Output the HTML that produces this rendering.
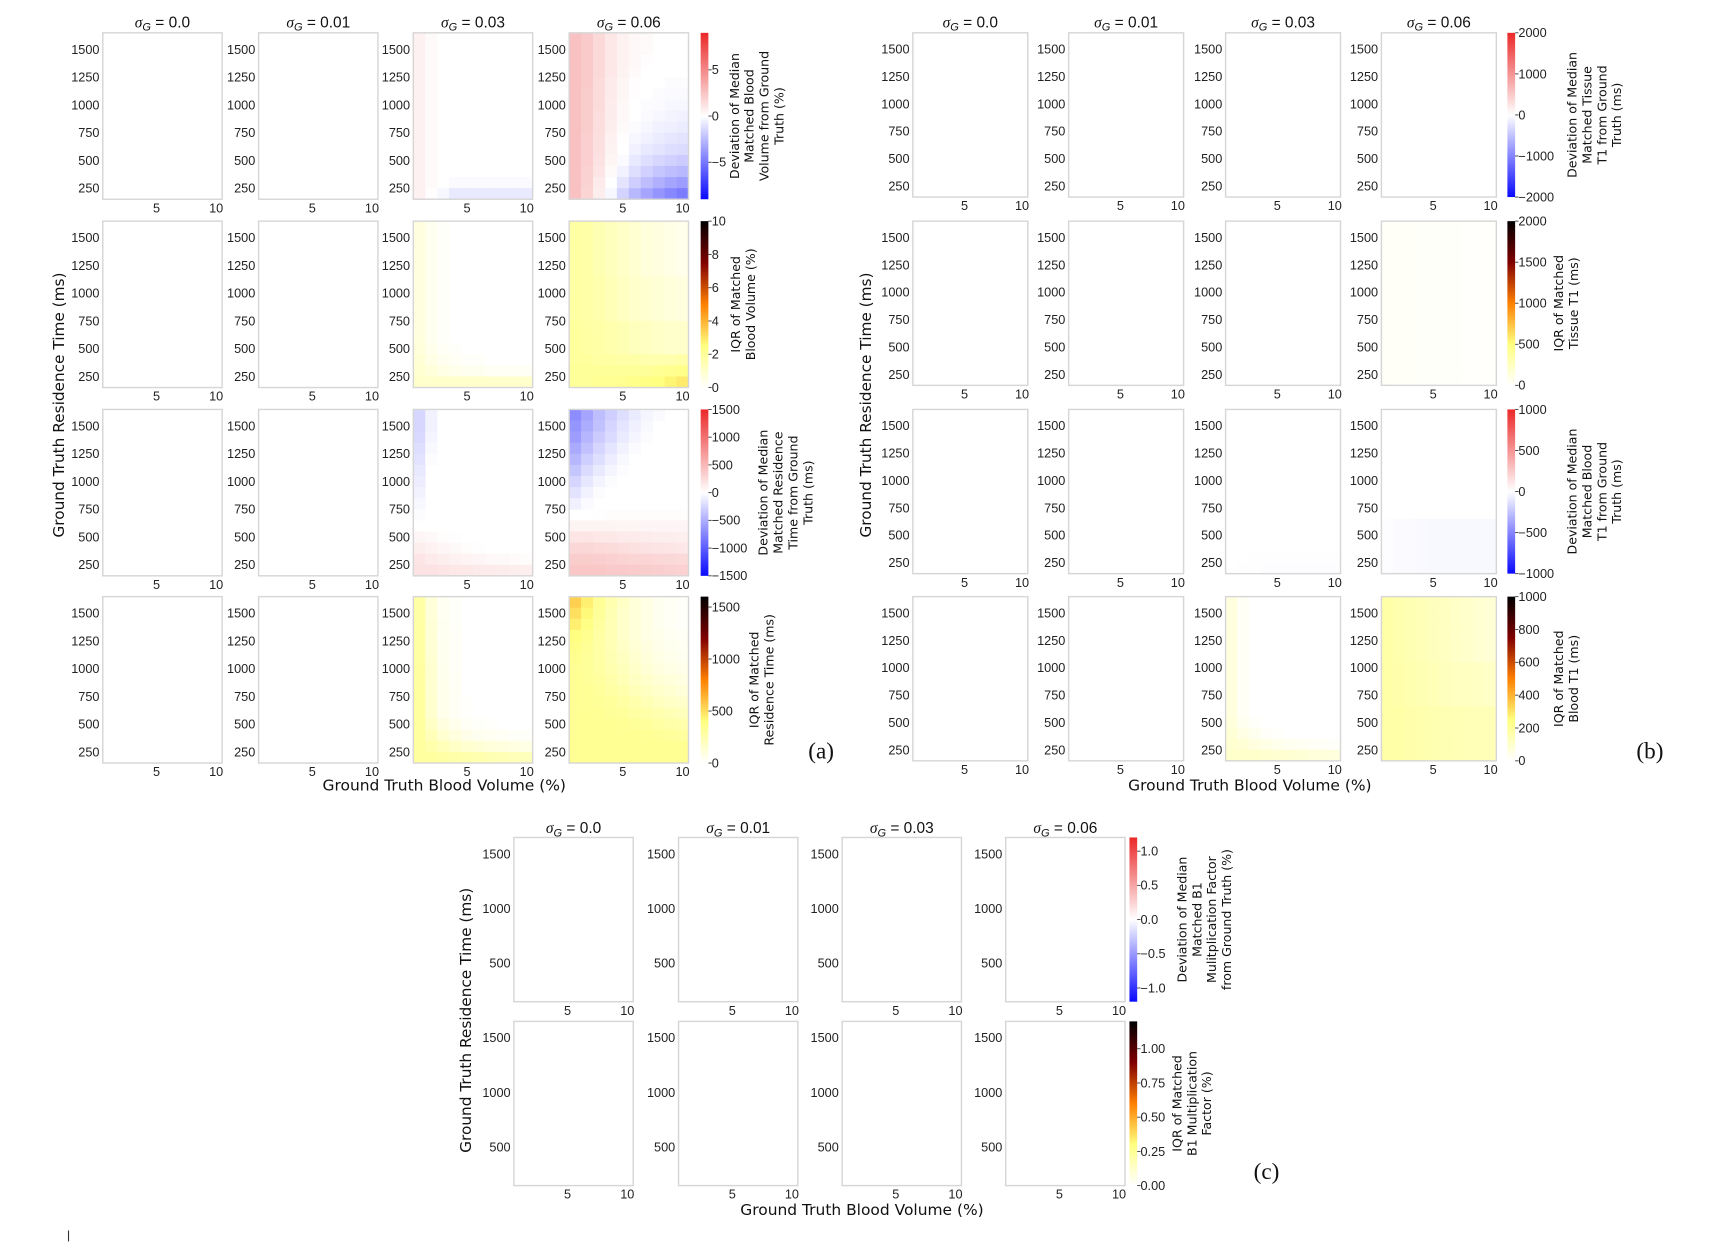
<!DOCTYPE html>
<html><head><meta charset="utf-8">
<style>
html,body{margin:0;padding:0;background:#fff;}
svg{display:block;}
.tk{font-family:"Liberation Sans Narrow","Liberation Sans",sans-serif;font-size:11.5px;fill:#222;}
.tt{font-family:"Liberation Sans",sans-serif;font-size:14px;fill:#111;}
.ax{font-family:"DejaVu Sans","Liberation Sans",sans-serif;font-size:14px;fill:#111;}
.cl{font-family:"DejaVu Sans","Liberation Sans",sans-serif;font-size:11.5px;fill:#111;}
.pl{font-family:"Liberation Serif",serif;font-size:21px;fill:#111;}
</style></head>
<body>
<svg id="fig" width="1724" height="1248" viewBox="0 0 1560 1140" preserveAspectRatio="none" xmlns="http://www.w3.org/2000/svg"></svg>
<script>
// ---- data ----
const sigmaLabels = ["0.0","0.01","0.03","0.06"];
const xVals = [1,2,3,4,5,6,7,8,9,10];
const yVals = [1600,1500,1400,1300,1200,1100,1000,900,800,700,600,500,400,300,200];
const xTicks = [5,10];
const yTicksAB = [250,500,750,1000,1250,1500];
const yTicksC = [500,1000,1500];

const ZERO = [[0]];

const a1_03 = [[0.6,0.2],[0.6,0.2],[0.6,0.2],[0.6,0.2],[0.6,0.2],[0.6,0.2],[0.6,0.2],[0.6,0.2],[0.6,0.2],[0.6,0.2],[0.6,0.2],[0.6,0.2],[0.6,0.2],
 [0.6,0.2,0,-0.2,-0.2,-0.2,-0.2,-0.2,-0.2,-0.2],[0.6,0.1,-0.3,-0.8,-0.8,-0.8,-0.8,-0.8,-0.8,-0.8]];
const a1_06 = [
 [2.6,2.2,1.6,1.0,0.6,0.3,0.2,0,0,0],[2.6,2.2,1.6,1.0,0.6,0.3,0.2,0,0,0],[2.6,2.2,1.6,1.0,0.6,0.3,0.1,0,0,0],
 [2.6,2.2,1.6,1.0,0.5,0.2,0,0,0,0],[2.6,2.2,1.5,0.9,0.4,0.1,0,0,-0.1,-0.1],[2.6,2.1,1.5,0.9,0.4,0.1,0,-0.1,-0.2,-0.2],
 [2.6,2.1,1.5,0.8,0.3,0,-0.1,-0.2,-0.3,-0.3],[2.6,2.1,1.4,0.8,0.3,0,-0.2,-0.3,-0.4,-0.5],[2.6,2.1,1.4,0.7,0.2,-0.1,-0.3,-0.5,-0.6,-0.7],
 [2.6,2.0,1.3,0.6,0.1,-0.3,-0.5,-0.7,-0.9,-1.0],[2.6,2.0,1.3,0.5,0,-0.5,-0.8,-1.0,-1.2,-1.3],[2.6,2.0,1.2,0.4,-0.2,-0.8,-1.2,-1.5,-1.7,-1.9],
 [2.6,1.9,1.1,0.2,-0.5,-1.2,-1.7,-2.1,-2.4,-2.6],[2.6,1.9,0.9,0,-1.0,-1.8,-2.4,-2.9,-3.3,-3.6],[2.6,1.8,0.7,-0.3,-1.6,-2.6,-3.3,-3.9,-4.4,-4.8]];
const a2_03 = [[0.6,0.3,0.1],[0.6,0.3,0.1],[0.6,0.3,0.1],[0.6,0.3,0.1],[0.6,0.3,0.1],[0.6,0.3,0.1],[0.6,0.3,0.1],[0.6,0.3,0.1],[0.6,0.3,0.1],[0.6,0.3,0.1],[0.6,0.3,0.1],
 [0.7,0.4,0.2,0.1],[0.8,0.5,0.3,0.2,0.1,0.1],[0.9,0.7,0.5,0.4,0.3,0.3,0.2,0.2,0.2,0.2],[1.0,1.0,1.0,1.0,1.0,1.0,1.0,1.0,1.0,1.0]];
const a2_06 = [
 [1.8,1.7,1.5,1.3,1.1,0.9,0.7,0.6,0.5,0.4],[1.8,1.7,1.5,1.3,1.1,0.9,0.7,0.6,0.5,0.4],[1.8,1.7,1.5,1.3,1.1,0.9,0.7,0.6,0.5,0.4],
 [1.8,1.7,1.5,1.3,1.1,0.9,0.7,0.6,0.5,0.4],[1.8,1.7,1.5,1.3,1.1,0.9,0.7,0.6,0.5,0.4],
 [1.8,1.7,1.6,1.4,1.2,1.0,0.9,0.8,0.7,0.6],[1.8,1.7,1.6,1.4,1.2,1.0,0.9,0.8,0.7,0.6],[1.8,1.7,1.6,1.4,1.2,1.0,0.9,0.8,0.7,0.6],[1.8,1.7,1.6,1.4,1.2,1.0,0.9,0.8,0.7,0.6],
 [1.9,1.8,1.7,1.6,1.5,1.3,1.2,1.1,1.0,1.0],[1.9,1.8,1.7,1.6,1.5,1.3,1.2,1.1,1.0,1.0],[1.9,1.8,1.7,1.6,1.5,1.3,1.2,1.1,1.0,1.0],
 [1.9,1.9,1.8,1.8,1.7,1.7,1.6,1.6,1.6,1.7],[2.0,2.0,2.0,2.0,2.0,2.0,2.0,2.1,2.2,2.3],[2.0,2.0,2.1,2.1,2.2,2.3,2.4,2.5,2.7,2.9]];
const a3_03 = [[-250,-80],[-250,-80],[-230,-60],[-200,-40],[-170,-20],[-140],[-110],[-80],[-50],[-20],[0],
 [60,40,20,10],[120,90,60,40,20,10],[180,150,120,100,80,60,50,40,30,20],[200,200,180,170,160,150,140,130,120,110]];
const a3_06 = [
 [-700,-550,-400,-300,-200,-120,-60,-30,0,0],[-650,-500,-380,-260,-160,-90,-40,0,0,0],[-600,-450,-320,-220,-120,-60,-20,0,0,0],
 [-520,-380,-260,-160,-80,-30,0,0,0,0],[-440,-300,-200,-110,-40,0,0,0,0,0],[-350,-220,-130,-60,-10,0,0,0,0,0],
 [-260,-150,-70,-20,0,0,0,0,0,0],[-170,-80,-20,0,0,0,0,0,0,0],[-90,-30,0,0,0,0,0,0,0,0],
 [0,0,10,20,20,20,20,20,20,20],[80,80,80,80,70,70,60,60,60,60],[180,180,170,160,150,140,130,120,120,110],
 [280,270,260,250,230,210,200,190,180,170],[350,350,340,330,310,300,290,280,270,260],[400,400,390,380,370,360,350,340,330,320]];
const a4_03 = [[280,120,40,20],[280,120,40,20],[285,125,45,20],[285,130,45,22],[290,130,50,22],[290,135,50,25],[295,140,55,25],[295,140,55,28],[300,145,60,30],[300,150,60,30,10],[300,150,60,30,10],
 [300,180,100,60,30,20,10],[300,220,150,100,70,50,40,30,20,20],[300,260,220,180,150,130,110,100,90,80],[300,300,280,270,260,250,240,230,220,210]];
const a4_06 = [
 [550,450,330,250,180,120,80,50,30,20],[500,420,320,240,170,120,80,50,30,20],[450,380,300,230,170,120,80,50,30,20],
 [400,350,290,230,170,120,80,60,40,30],[370,330,280,230,180,130,100,70,50,40],[350,320,280,240,190,150,110,80,60,50],
 [340,320,290,250,210,170,130,100,80,70],[340,320,300,270,230,190,160,130,110,90],[340,330,310,290,260,220,190,160,140,120],
 [340,330,320,310,290,260,230,200,180,160],[340,340,330,320,310,290,270,250,230,210],[340,340,340,340,330,320,310,290,270,260],
 [340,340,340,340,340,340,330,320,310,300],[340,340,340,340,340,340,340,340,340,340],[340,340,340,340,340,340,340,340,340,340]];
const b2_06 = [[30,28,26,24,22,20,18,16,14,12],[30,28,26,24,22,20,18,16,14,12],[30,28,26,24,22,20,18,16,14,12],[30,28,26,24,22,20,18,16,14,12],[30,28,26,24,22,20,18,16,14,12],
 [30,28,26,24,22,20,18,16,14,12],[30,28,26,24,22,20,18,16,14,12],[30,28,26,24,22,20,18,16,14,12],[30,28,26,24,22,20,18,16,14,12],[30,28,26,24,22,20,18,16,14,12],
 [30,28,26,24,22,20,18,16,14,12],[30,28,26,24,22,20,18,16,14,12],[30,28,26,24,22,20,18,16,14,12],[30,28,26,24,22,20,18,16,14,12],[30,28,26,24,22,20,18,16,14,12]];
const b3_03 = [[0],[0],[0],[0],[0],[0],[0],[0],[0],[0],[0],[0],[0],[0,0,-3,-5,-5,-5,-5,-5,-5,-5],[0,-3,-6,-8,-8,-8,-8,-8,-8,-8]];
const b3_06 = [[0],[0],[0],[0],[0],[0],[0],[0],[0],[0],
 [-10,-15,-20,-25,-30,-30,-30,-30,-30,-30],[-10,-15,-20,-25,-30,-30,-30,-30,-30,-30],[-10,-15,-20,-25,-30,-30,-30,-30,-30,-30],[-10,-15,-20,-25,-30,-30,-30,-30,-30,-30],[-10,-15,-20,-25,-30,-30,-30,-30,-30,-30]];
const b4_03 = [[60,20],[60,20],[60,20],[60,20],[60,20],[60,20],[60,20],[60,20],[60,20],[60,20],[60,20],
 [70,30,10],[80,50,30,15,5],[90,80,60,50,40,30,25,20,15,10],[100,100,100,95,90,85,80,75,70,65]];
const b4_06 = [[170,160,150,140,130,120,110,100,90,80],[170,160,150,140,130,120,110,100,90,80],[170,160,150,140,130,120,110,100,90,80],
 [170,160,150,140,130,120,110,100,90,80],[170,160,150,140,130,120,110,100,90,80],[170,160,150,140,130,120,110,100,90,80],
 [170,165,155,150,140,130,125,120,115,110],[170,165,155,150,140,130,125,120,115,110],[170,165,155,150,140,130,125,120,115,110],[170,165,155,150,140,130,125,120,115,110],
 [170,170,165,160,155,150,145,140,140,140],[170,170,165,160,155,150,145,140,140,140],[170,170,165,160,155,150,145,140,140,140],[170,170,165,160,155,150,145,140,140,140],[170,170,165,160,155,150,145,140,140,140]];

// ---- drawing ----
const NS="http://www.w3.org/2000/svg";
const svg=document.getElementById('fig');
function el(tag,attrs,parent,text){const e=document.createElementNS(NS,tag);for(const k in attrs)e.setAttribute(k,attrs[k]);if(text!==undefined)e.textContent=text;(parent||svg).appendChild(e);return e;}
function clamp(v){return Math.max(0,Math.min(1,v));}
function bwr(v,lo,hi){const m=Math.max(-lo,hi);const f=v/m;if(f>=0){const t=clamp(1-f);return [235,Math.round(50+185*t)*0+Math.round(235*t+20*t),Math.round(255*t)].map((c,i)=>i==0?255:c);}else{const t=clamp(1+f);return [Math.round(255*t),Math.round(255*t),255];}}
function bwrC(v,lo,hi){const m=Math.max(-lo,hi);const f=v/m;if(f>=0){const t=clamp(1-f);return [Math.round(235+20*t),Math.round(40+215*t),Math.round(40+215*t)];}else{const t=clamp(1+f);return [Math.round(10+245*t),Math.round(10+245*t),255];}}
function hot(v,lo,hi){const t=clamp(1-(v-lo)/(hi-lo));return [Math.round(255*clamp(2*t)),Math.round(255*clamp(2*t-0.5)),Math.round(255*clamp(2*t-1))];}
function rgb(c){return `rgb(${c[0]},${c[1]},${c[2]})`;}

function panel(cfg){
  const {x0,y0,w,h,grid,cmap,lo,hi,yTicks,name}=cfg;
  const g=el('g',{},svg);
  
  
  const xs=v=>x0+(v-0.5)/10*w;
  const ys=v=>y0+(1650-v)/1500*h;
  el('rect',{x:x0,y:y0,width:w,height:h,fill:'#fff'},g);
  yVals.forEach((yv,r)=>{
    const row=grid[r]||[];
    xVals.forEach((xv,c)=>{
      const v=row[c]||0;
      if(v===0)return;
      const col=cmap==='bwr'?bwrC(v,lo,hi):hot(v,lo,hi);
      const rc=el('rect',{x:xs(xv-0.5),y:ys(yv+50),width:xs(xv+0.5)-xs(xv-0.5)+0.3,height:ys(yv-50)-ys(yv+50)+0.3,fill:rgb(col)},g);
      
      
    });
  });
  el('rect',{x:x0,y:y0,width:w,height:h,fill:'none',stroke:'#d6d6d6','stroke-width':1.3},g);
  yTicks.forEach(t=>{const tx=el('text',{x:x0-3,y:ys(t)+4,'text-anchor':'end',class:'tk'},g,String(t));
    });
  xTicks.forEach(t=>{const tx=el('text',{x:xs(t),y:y0+h+12,'text-anchor':'middle',class:'tk'},g,String(t));
    });
}
let gid=0;
function colorbar(cfg){
  const {x,y,w,h,cmap,lo,hi,ticks,label,lx}=cfg;
  const id='cg'+(gid++);
  const defs=el('defs',{},svg);
  const lg=el('linearGradient',{id:id,x1:0,y1:1,x2:0,y2:0},defs);
  for(let i=0;i<=20;i++){const v=lo+(hi-lo)*i/20;const c=cmap==='bwr'?bwrC(v,lo,hi):hot(v,lo,hi);el('stop',{offset:i/20,'stop-color':rgb(c)},lg);}
  const g=el('g',{},svg);
  
  
  el('rect',{x:x,y:y,width:w,height:h,fill:`url(#${id})`},g);
  ticks.forEach(t=>{const ty=y+(hi-t)/(hi-lo)*h;el('line',{x1:x+w,x2:x+w+3,y1:ty,y2:ty,stroke:'#333','stroke-width':0.8},g);
    const tx=el('text',{x:x+w+3,y:ty+4,class:'tk'},g,t.txt!==undefined?t.txt:String(t).replace('-','\u2212'));
    });
  const cy=y+h/2;
  const tg=el('text',{transform:`translate(${lx},${cy}) rotate(-90)`,'text-anchor':'middle',class:'cl'},g);
  
  
  const n=label.length;
  label.forEach((ln,i)=>el('tspan',{x:0,y:(i-(n-1))*13.5},tg,ln));
}
function title(x,y,s){const t=el('text',{x:x,y:y,'text-anchor':'middle',class:'tt'});
  
  el('tspan',{'font-style':'italic','font-family':'Liberation Serif'},t,'σ');
  el('tspan',{'font-style':'italic','font-size':'10px',dy:3},t,'G');
  el('tspan',{dy:-3},t,' = '+s);}
function text(x,y,s,cls,name,rot){const t=el('text',{x:x,y:y,'text-anchor':'middle',class:cls},svg,s);
  if(rot)t.setAttribute('transform',`rotate(-90 ${x} ${y})`);
  return t;}

// panel (a)
const aCols=[93,234,374,515], aRows=[30,202,374,545], aW=108, aH=152;
const aGrids=[[ZERO,ZERO,a1_03,a1_06],[ZERO,ZERO,a2_03,a2_06],[ZERO,ZERO,a3_03,a3_06],[ZERO,ZERO,a4_03,a4_06]];
const aScales=[['bwr',-9,9],['hot',0,10],['bwr',-1500,1500],['hot',0,1600]];
aCols.forEach((cx,ci)=>title(cx+aW/2,25,sigmaLabels[ci]));
aRows.forEach((ry,ri)=>aCols.forEach((cx,ci)=>panel({x0:cx,y0:ry,w:aW,h:aH,grid:aGrids[ri][ci],cmap:aScales[ri][0],lo:aScales[ri][1],hi:aScales[ri][2],yTicks:yTicksAB,name:'heatmap-a-r'+(ri+1)+'-c'+(ci+1)})));
colorbar({x:634,y:30,w:7,h:152,cmap:'bwr',lo:-9,hi:9,ticks:[5,0,-5],lx:709,label:['Deviation of Median','Matched Blood','Volume from Ground','Truth (%)']});
colorbar({x:634,y:202,w:7,h:152,cmap:'hot',lo:0,hi:10,ticks:[10,8,6,4,2,0],lx:683,label:['IQR of Matched','Blood Volume (%)']});
colorbar({x:634,y:374,w:7,h:152,cmap:'bwr',lo:-1500,hi:1500,ticks:[1500,1000,500,0,-500,-1000,-1500],lx:735,label:['Deviation of Median','Matched Residence','Time from Ground','Truth (ms)']});
colorbar({x:634,y:545,w:7,h:152,cmap:'hot',lo:0,hi:1600,ticks:[1500,1000,500,0],lx:700,label:['IQR of Matched','Residence Time (ms)']});
text(58,370,'Ground Truth Residence Time (ms)','ax','y-axis-title-a',true);
text(402,722,'Ground Truth Blood Volume (%)','ax','x-axis-title-a');
text(743,693,'(a)','pl','panel-label-a');

// panel (b)
const bCols=[826,967,1109,1250], bW=104;
const bGrids=[[ZERO,ZERO,ZERO,ZERO],[ZERO,ZERO,ZERO,b2_06],[ZERO,ZERO,b3_03,b3_06],[ZERO,ZERO,b4_03,b4_06]];
const bScales=[['bwr',-2000,2000],['hot',0,2000],['bwr',-1000,1000],['hot',0,1000]];
bCols.forEach((cx,ci)=>title(cx+bW/2,25,sigmaLabels[ci]));
aRows.forEach((ry,ri)=>bCols.forEach((cx,ci)=>panel({x0:cx,y0:ry,w:bW,h:aH-2,grid:bGrids[ri][ci],cmap:bScales[ri][0],lo:bScales[ri][1],hi:bScales[ri][2],yTicks:yTicksAB,name:'heatmap-b-r'+(ri+1)+'-c'+(ci+1)})));
colorbar({x:1364,y:30,w:7,h:150,cmap:'bwr',lo:-2000,hi:2000,ticks:[2000,1000,0,-1000,-2000],lx:1467,label:['Deviation of Median','Matched Tissue','T1 from Ground','Truth (ms)']});
colorbar({x:1364,y:202,w:7,h:150,cmap:'hot',lo:0,hi:2000,ticks:[2000,1500,1000,500,0],lx:1428,label:['IQR of Matched','Tissue T1 (ms)']});
colorbar({x:1364,y:374,w:7,h:150,cmap:'bwr',lo:-1000,hi:1000,ticks:[1000,500,0,-500,-1000],lx:1467,label:['Deviation of Median','Matched Blood','T1 from Ground','Truth (ms)']});
colorbar({x:1364,y:545,w:7,h:150,cmap:'hot',lo:0,hi:1000,ticks:[1000,800,600,400,200,0],lx:1428,label:['IQR of Matched','Blood T1 (ms)']});
text(788,370,'Ground Truth Residence Time (ms)','ax','y-axis-title-b',true);
text(1131,722,'Ground Truth Blood Volume (%)','ax','x-axis-title-b');
text(1493,693,'(b)','pl','panel-label-b');

// panel (c)
const cCols=[465,614,762,910], cRows=[765,933], cW=108, cH=150;
cCols.forEach((cx,ci)=>title(cx+cW/2,761,sigmaLabels[ci]));
const cScales=[['bwr',-1.2,1.2],['hot',0,1.2]];
cRows.forEach((ry,ri)=>cCols.forEach((cx,ci)=>panel({x0:cx,y0:ry,w:cW,h:cH,grid:ZERO,cmap:cScales[ri][0],lo:cScales[ri][1],hi:cScales[ri][2],yTicks:yTicksC,name:'heatmap-c-r'+(ri+1)+'-c'+(ci+1)})));
colorbar({x:1022,y:765,w:7,h:150,cmap:'bwr',lo:-1.2,hi:1.2,ticks:[{valueOf(){return 1}},0.5,0,-0.5,-1].map((t,i)=>{const v=[1,0.5,0,-0.5,-1][i];const o=new Number(v);o.txt=['1.0','0.5','0.0','\u22120.5','\u22121.0'][i];return o;}),lx:1114,label:['Deviation of Median','Matched B1','Mulitplication Factor','from Ground Truth (%)']});
colorbar({x:1022,y:933,w:7,h:150,cmap:'hot',lo:0,hi:1.2,ticks:[1,0.75,0.5,0.25,0].map((v,i)=>{const o=new Number(v);o.txt=['1.00','0.75','0.50','0.25','0.00'][i];return o;}),lx:1096,label:['IQR of Matched','B1 Multiplication','Factor (%)']});
text(426,932,'Ground Truth Residence Time (ms)','ax','y-axis-title-c',true);
text(780,1110,'Ground Truth Blood Volume (%)','ax','x-axis-title-c');
text(1146,1077,'(c)','pl','panel-label-c');
const mk=el('line',{x1:62,x2:62,y1:1124,y2:1134,stroke:'#333','stroke-width':1});


</script>
</body></html>
